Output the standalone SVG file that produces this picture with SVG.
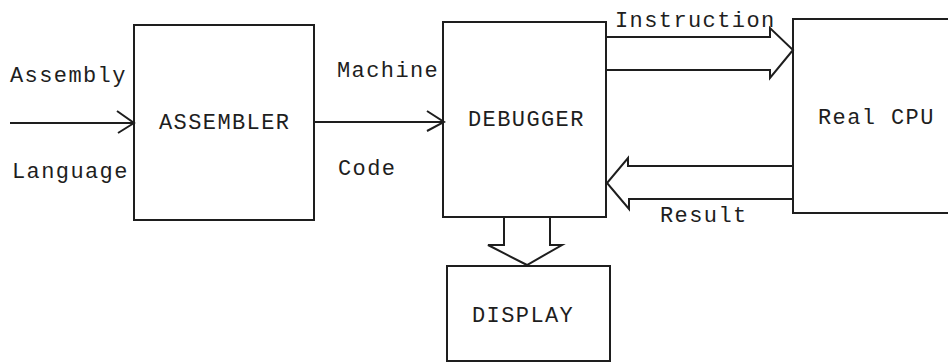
<svg xmlns="http://www.w3.org/2000/svg" width="948" height="362" viewBox="0 0 948 362">
<style>
.box{fill:none;stroke:#1e1e1e;stroke-width:2}
.ln{fill:none;stroke:#1e1e1e;stroke-width:2;stroke-linejoin:miter}
text{font-family:"Liberation Mono","Courier New",monospace;font-size:22px;letter-spacing:1.4px;fill:#1e1e1e}
</style>
<rect width="948" height="362" fill="#ffffff"/>
<g id="connectors">
  <g id="in-arrow"><path class="ln" d="M10 123H134M117 111L134 123L118 133"/></g>
  <g id="asm-dbg"><path class="ln" d="M313 122H444M427 111L444 122L427 131"/></g>
  <g id="instruction-arrow"><path class="ln" d="M605 37H770V28L793 50L770 78V70H605"/></g>
  <g id="result-arrow"><path class="ln" d="M793 166H628V158L607 183L629 209V199H793"/></g>
  <g id="display-arrow"><path class="ln" d="M504 217V245H488L527 265L562 245H550V217"/></g>
</g>
<g id="input-labels">
  <text x="10" y="82">Assembly</text>
  <text x="12" y="178">Language</text>
</g>
<g id="assembler"><rect class="box" x="134" y="25" width="180" height="195"/><text x="159" y="129">ASSEMBLER</text></g>
<g id="machine-labels">
  <text x="337" y="77">Machine</text>
  <text x="338" y="175">Code</text>
</g>
<g id="debugger"><rect class="box" x="443" y="22" width="163" height="195"/><text x="468" y="126">DEBUGGER</text></g>
<g id="real-cpu"><path class="box" d="M950 19H793V213H950"/><text x="818" y="124">Real CPU</text></g>
<g id="display"><rect class="box" x="447" y="266" width="163" height="95"/><text x="472" y="322">DISPLAY</text></g>
<g id="bus-labels">
  <text x="615" y="27">Instruction</text>
  <text x="660" y="222">Result</text>
</g>
</svg>
